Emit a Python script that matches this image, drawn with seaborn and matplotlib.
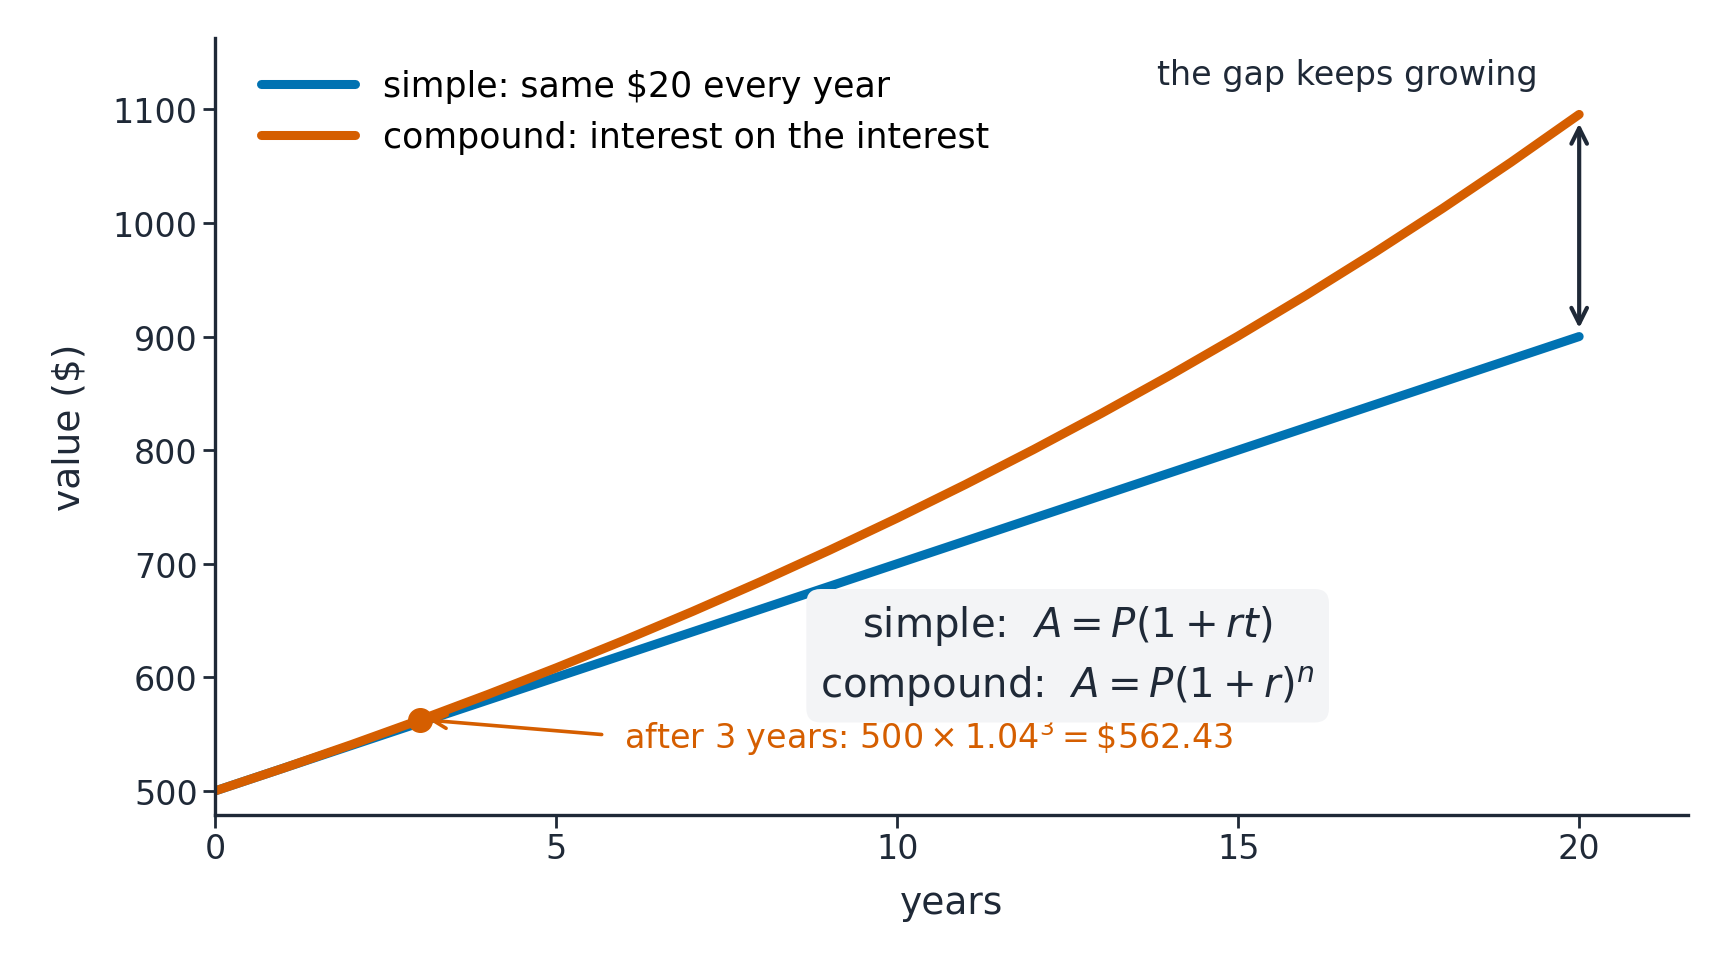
import matplotlib
matplotlib.use("Agg")
import matplotlib.pyplot as plt
import seaborn as sns
import pandas as pd

years = list(range(0, 21))
simple_values = [500, 520, 540, 560, 580, 600, 620, 640, 660, 680, 700,
                 720, 740, 760, 780, 800, 820, 840, 860, 880, 900]
compound_values = [500.00, 520.00, 540.80, 562.43, 584.93, 608.33, 632.66,
                   657.97, 684.28, 711.66, 740.12, 769.73, 800.52, 832.54,
                   865.84, 900.47, 936.49, 973.95, 1012.91, 1053.42, 1095.56]
highlight_year = 3
highlight_value = 562.43

ink = "#1f2937"
blue = "#0072b2"
orange = "#d55e00"

sns.set_style("ticks")
plt.rcParams["font.family"] = ["DejaVu Sans"]

df = pd.DataFrame({"years": years, "simple": simple_values, "compound": compound_values})

fig = plt.figure(figsize=(17.21, 9.70), dpi=100)
ax = fig.add_axes([0.125, 1 - 0.841, 0.981 - 0.125, 0.841 - 0.040])

sns.lineplot(data=df, x="years", y="simple", ax=ax, color=blue, lw=6.5,
             label="simple: same $20 every year")
sns.lineplot(data=df, x="years", y="compound", ax=ax, color=orange, lw=6.5,
             label="compound: interest on the interest")
ax.plot([highlight_year], [highlight_value], "o", color=orange, ms=17, zorder=5)

ax.set_xlim(0, 21.6)
ax.set_ylim(479, 1163)
ax.set_xticks([0, 5, 10, 15, 20])
ax.set_yticks(range(500, 1101, 100))
ax.tick_params(colors=ink, labelsize=24, length=9, width=2)
for s in ["top", "right"]:
    ax.spines[s].set_visible(False)
for s in ["left", "bottom"]:
    ax.spines[s].set_color(ink)
    ax.spines[s].set_linewidth(2.4)
ax.set_xlabel("years", fontsize=27, color=ink, labelpad=14)
ax.set_ylabel("value ($)", fontsize=27, color=ink, labelpad=18)

leg = ax.legend(loc="upper left", fontsize=25, frameon=False, handlelength=2.7,
                bbox_to_anchor=(0.01, 1.0))
for t in leg.get_texts():
    t.set_color("black")

ax.annotate("", xy=(20, 1090), xytext=(20, 905),
            arrowprops=dict(arrowstyle="<->", color=ink, lw=3, mutation_scale=28))
ax.text(16.6, 1131, "the gap keeps growing", fontsize=24, color=ink, ha="center", va="center")

ax.annotate(r"after 3 years: $500 \times 1.04^3 = \$562.43$",
            xy=(highlight_year + 0.1, highlight_value), xytext=(6.0, 548),
            fontsize=24, color=orange, va="center",
            arrowprops=dict(arrowstyle="->", color=orange, lw=2.6, shrinkA=14,
                            relpos=(0, 0.5), mutation_scale=24))

ax.text(12.5, 619, "simple:  $A = P(1 + rt)$\ncompound:  $A = P(1 + r)^n$",
        fontsize=29, color=ink, ha="center", va="center", linespacing=1.5,
        bbox=dict(boxstyle="round,pad=0.35", fc="#f3f4f6", ec="none"), zorder=6)

fig.savefig("out.png", dpi=100)
